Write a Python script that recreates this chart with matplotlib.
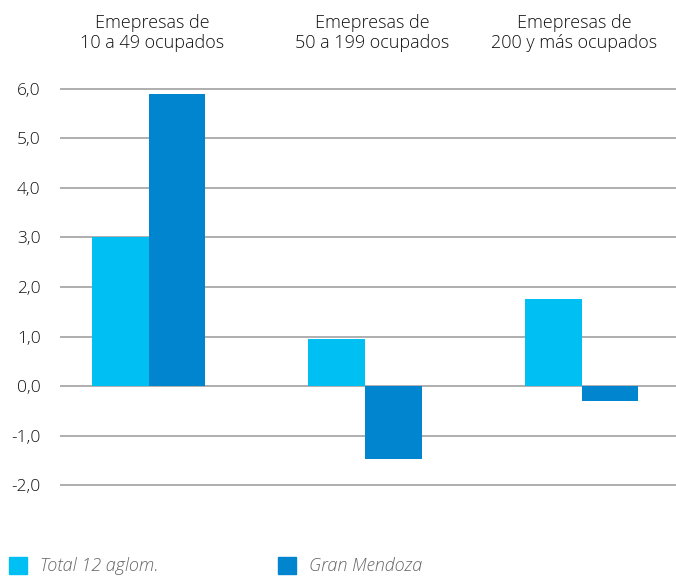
import matplotlib
matplotlib.use("Agg")
import matplotlib.pyplot as plt
from matplotlib.patches import Rectangle

plt.rcParams['font.family'] = ['Open Sans', 'DejaVu Sans']

categories = ["Emepresas de\n10 a 49 ocupados", "Emepresas de\n50 a 199 ocupados", "Emepresas de\n200 y más ocupados"]
series_names = ["Total 12 aglom.", "Gran Mendoza"]
total_12 = [3.0, 0.95, 1.75]
gran_mendoza = [5.9, -1.48, -0.31]
yticks = [-2, -1, 0, 1, 2, 3, 4, 5, 6]
ytick_labels = ["-2,0", "-1,0", "0,0", "1,0", "2,0", "3,0", "4,0", "5,0", "6,0"]

c_light = "#00BFF3"
c_dark = "#0085CE"

fig = plt.figure(figsize=(6.76, 5.77), dpi=100)
ax = fig.add_axes([60/676, 87/577, 616/676, (490-84)/577])

x = list(range(len(categories)))
w = 0.262
ax.bar([i - w/2 for i in x], total_12, width=w, color=c_light, zorder=3)
ax.bar([i + w/2 for i in x], gran_mendoza, width=w, color=c_dark, zorder=3)

ax.set_xlim(-0.409, 2.4365)
ax.set_ylim(-2.1, 6.1)
ax.set_yticks(yticks)
ax.set_yticklabels(ytick_labels, fontsize=12.5, color="#111111", fontweight='light')
ax.set_xticks([])
ax.tick_params(axis='y', length=0, pad=14)
ax.yaxis.grid(True, color="#AEAEAE", linewidth=1.4, zorder=0)
for s in ax.spines.values():
    s.set_visible(False)

# category labels at top
label_x = [152, 372, 574]
for lx, cat in zip(label_x, categories):
    fig.text(lx/676, 1 - 33/577, cat, ha='center', va='center', fontsize=13,
             color="#111111", linespacing=1.1, fontweight='light')

# legend
for (sx, tx), name, col in zip([(9, 40), (278, 309)], series_names, [c_light, c_dark]):
    fig.patches.append(Rectangle((sx/676, 1 - 574/577), 18/676, 17/577,
                                 transform=fig.transFigure, color=col))
    fig.text(tx/676, 1 - 566/577, name, ha='left', va='center', fontsize=13,
             style='italic', color="#666666", fontweight='light')

fig.savefig("out.png", dpi=100)
